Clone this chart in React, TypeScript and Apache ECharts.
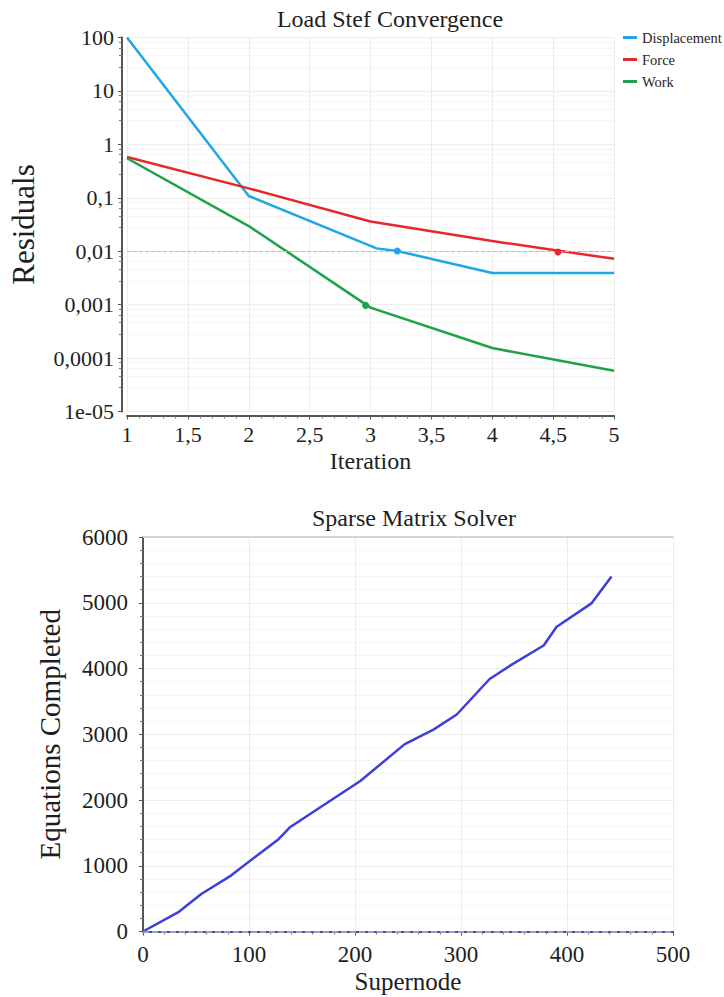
import React, { useEffect, useRef } from "react";
import * as echarts from "echarts";

// ---- Chart 1: Load Step Convergence ----
const dispX = [1, 2, 3.05, 3.22, 4, 5];
const dispY = [100, 0.108, 0.0113, 0.0101, 0.0039, 0.0039];
const forceX = [1, 2, 3, 4, 5];
const forceY = [0.58, 0.15, 0.036, 0.0155, 0.0072];
const workX = [1, 2, 3, 4, 5];
const workY = [0.55, 0.0296, 0.00088, 0.000154, 0.000058];
const dispCriterion = 0.01;
const workCriterion = 0.001;
const dispMarker = [3.22, 0.0101];
const forceMarker = [4.54, 0.0097];
const workMarker = [2.96, 0.00097];

// ---- Chart 2: Sparse Matrix Solver ----
const superX = [0, 33, 55, 83, 107, 127, 139, 205, 247, 274, 296, 327, 349, 378, 390, 423, 442];
const eqY = [0, 290, 570, 850, 1150, 1390, 1590, 2290, 2850, 3070, 3300, 3840, 4070, 4350, 4630, 4990, 5400];
const eqBaseline = 0;

const FONT = "Liberation Serif";
const TXT = "#1e1e1e";
const AXIS = "#555";

const zip = (xs: number[], ys: number[]) => xs.map((x, i) => [x, ys[i]]);

const logLabel = (v: number) => {
  const e = Math.round(Math.log10(v));
  if (e >= 0) return String(Math.pow(10, e));
  if (e >= -4) return "0," + "0".repeat(-e - 1) + "1";
  return "1e-" + String(-e).padStart(2, "0");
};

export default function App() {
  const ref = useRef<HTMLDivElement>(null);
  useEffect(() => {
    document.body.style.margin = "0";
    if (!ref.current) return;
    const chart = echarts.init(ref.current, undefined, { renderer: "svg" });

    const axisCommon = {
      axisLine: { show: true, lineStyle: { color: AXIS, width: 2 } },
      axisTick: { show: true, length: 4, lineStyle: { color: AXIS } },
      minorTick: { show: true, splitNumber: 5, length: 3, lineStyle: { color: "#777" } },
      axisLabel: { color: TXT, fontFamily: FONT, fontSize: 22 },
      splitLine: { show: true, lineStyle: { color: "#ececec", width: 1 } },
      minorSplitLine: { show: true, lineStyle: { color: "#f6f6f6", width: 1 } },
      nameTextStyle: { color: TXT, fontFamily: FONT },
    };

    chart.setOption({
      animation: false,
      backgroundColor: "#fff",
      textStyle: { fontFamily: FONT, color: TXT },
      title: [
        {
          text: "Load Stef Convergence",
          left: 385,
          textAlign: "center",
          top: 2,
          textStyle: { fontFamily: FONT, fontWeight: "normal", fontSize: 24, color: TXT },
        },
        {
          text: "Sparse Matrix Solver",
          left: 409,
          textAlign: "center",
          top: 501,
          textStyle: { fontFamily: FONT, fontWeight: "normal", fontSize: 24, color: TXT },
        },
      ],
      legend: {
        orient: "vertical",
        left: 618,
        top: 25,
        itemWidth: 14,
        itemHeight: 3,
        itemGap: 7,
        icon: "rect",
        textStyle: { fontFamily: FONT, fontSize: 14.5, color: TXT },
        data: ["Displacement", "Force", "Work"],
      },
      grid: [
        { left: 127, right: 110, top: 37.5, bottom: 997 - 411.5 },
        { left: 143, right: 51, top: 537, bottom: 997 - 931.5 },
      ],
      xAxis: [
        {
          ...axisCommon,
          gridIndex: 0,
          type: "value",
          min: 1,
          max: 5,
          interval: 0.5,
          offset: 4,
          name: "Iteration",
          nameLocation: "middle",
          nameGap: 33,
          nameTextStyle: { ...axisCommon.nameTextStyle, fontSize: 24 },
          axisLabel: {
            ...axisCommon.axisLabel,
            margin: 8,
            formatter: (v: number) => String(v).replace(".", ","),
          },
          minorSplitLine: { show: false },
        },
        {
          ...axisCommon,
          gridIndex: 1,
          type: "value",
          min: 0,
          max: 500,
          interval: 100,
          offset: 4,
          name: "Supernode",
          nameLocation: "middle",
          nameGap: 33,
          nameTextStyle: { ...axisCommon.nameTextStyle, fontSize: 25 },
          axisLabel: { ...axisCommon.axisLabel, fontSize: 23, margin: 7, formatter: (v: number) => String(v) },
          minorSplitLine: { show: false },
        },
        {
          gridIndex: 1,
          type: "value",
          position: "top",
          min: 0,
          max: 500,
          axisLine: { show: true, lineStyle: { color: "#d4d4d4", width: 2 } },
          axisTick: { show: false },
          axisLabel: { show: false },
          splitLine: { show: false },
        },
      ],
      yAxis: [
        {
          ...axisCommon,
          gridIndex: 0,
          type: "log",
          logBase: 10,
          min: 1e-5,
          max: 100,
          interval: 1,
          offset: 5,
          name: "Residuals",
          nameLocation: "middle",
          nameGap: 83,
          nameTextStyle: { ...axisCommon.nameTextStyle, fontSize: 31 },
          axisLabel: { ...axisCommon.axisLabel, margin: 8, formatter: logLabel },
        },
        {
          ...axisCommon,
          gridIndex: 1,
          type: "value",
          min: 0,
          max: 6000,
          interval: 1000,
          offset: 6,
          name: "Equations Completed",
          nameLocation: "middle",
          nameGap: 73,
          nameTextStyle: { ...axisCommon.nameTextStyle, fontSize: 29 },
          axisLabel: { ...axisCommon.axisLabel, fontSize: 23, margin: 9, formatter: (v: number) => String(v) },
        },
      ],
      series: [
        {
          name: "Displacement",
          type: "line",
          xAxisIndex: 0,
          yAxisIndex: 0,
          data: zip(dispX, dispY),
          showSymbol: false,
          color: "#1ea7e4",
          lineStyle: { width: 2.5, color: "#1ea7e4" },
          markLine: {
            silent: true,
            symbol: "none",
            label: { show: false },
            lineStyle: { color: "#b4b4f4", type: "dashed", width: 1 },
            data: [{ yAxis: dispCriterion }],
          },
          markPoint: {
            symbol: "circle",
            symbolSize: 7,
            label: { show: false },
            itemStyle: { color: "#1ea7e4" },
            data: [{ coord: dispMarker }],
          },
        },
        {
          name: "Force",
          type: "line",
          xAxisIndex: 0,
          yAxisIndex: 0,
          data: zip(forceX, forceY),
          showSymbol: false,
          color: "#e8272d",
          lineStyle: { width: 2.5, color: "#e8272d" },
          markPoint: {
            symbol: "circle",
            symbolSize: 7,
            label: { show: false },
            itemStyle: { color: "#e8272d" },
            data: [{ coord: forceMarker }],
          },
        },
        {
          name: "Work",
          type: "line",
          xAxisIndex: 0,
          yAxisIndex: 0,
          data: zip(workX, workY),
          showSymbol: false,
          color: "#1fa147",
          lineStyle: { width: 2.5, color: "#1fa147" },
          markLine: {
            silent: true,
            symbol: "none",
            label: { show: false },
            lineStyle: { color: "#72e072", type: "dashed", width: 1 },
            data: [{ yAxis: workCriterion }],
          },
          markPoint: {
            symbol: "circle",
            symbolSize: 7,
            label: { show: false },
            itemStyle: { color: "#1fa147" },
            data: [{ coord: workMarker }],
          },
        },
        {
          name: "Equations",
          type: "line",
          xAxisIndex: 1,
          yAxisIndex: 1,
          data: zip(superX, eqY),
          showSymbol: false,
          color: "#3d3fd9",
          lineStyle: { width: 2.5, color: "#3d3fd9" },
          markLine: {
            silent: true,
            symbol: "none",
            label: { show: false },
            lineStyle: { color: "#b0b0ff", type: "dashed", width: 1.5 },
            data: [{ yAxis: eqBaseline }],
          },
        },
      ],
    });
    return () => chart.dispose();
  }, []);
  return <div ref={ref} style={{ width: 724, height: 997 }} />;
}
